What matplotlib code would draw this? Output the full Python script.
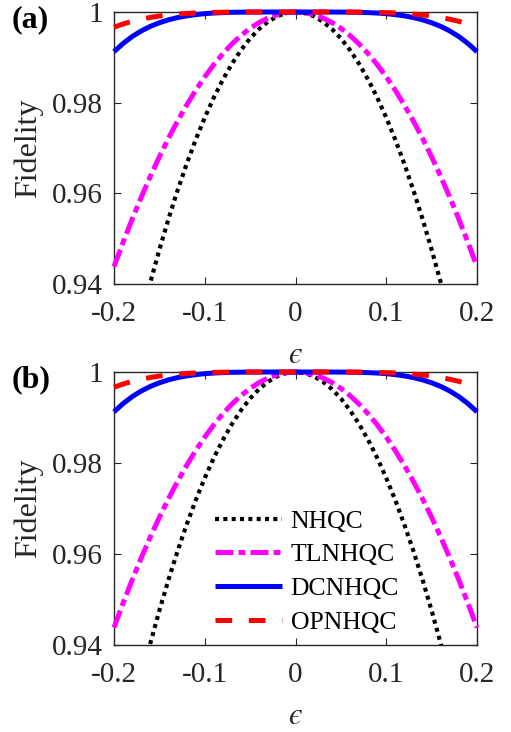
import matplotlib
matplotlib.use("Agg")
import matplotlib.pyplot as plt

plt.rcParams['font.family'] = ['Liberation Serif', 'DejaVu Serif']
plt.rcParams['mathtext.fontset'] = 'stix'
plt.rcParams['lines.scale_dashes'] = False

eps = [-0.20, -0.19, -0.18, -0.17, -0.16, -0.15, -0.14, -0.13, -0.12, -0.11,
       -0.10, -0.09, -0.08, -0.07, -0.06, -0.05, -0.04, -0.03, -0.02, -0.01,
       0.00,
       0.01, 0.02, 0.03, 0.04, 0.05, 0.06, 0.07, 0.08, 0.09, 0.10,
       0.11, 0.12, 0.13, 0.14, 0.15, 0.16, 0.17, 0.18, 0.19, 0.20]

nhqc = [0.90680, 0.91589, 0.92451, 0.93266, 0.94035, 0.94758, 0.95433, 0.96062, 0.96645, 0.97181,
        0.97670, 0.98113, 0.98509, 0.98858, 0.99161, 0.99418, 0.99627, 0.99790, 0.99907, 0.99977,
        1.00000,
        0.99977, 0.99907, 0.99790, 0.99627, 0.99418, 0.99161, 0.98858, 0.98509, 0.98113, 0.97670,
        0.97181, 0.96645, 0.96062, 0.95433, 0.94758, 0.94035, 0.93266, 0.92451, 0.91589, 0.90680]

tlnhqc = [0.94384, 0.94919, 0.95429, 0.95914, 0.96373, 0.96806, 0.97212, 0.97592, 0.97945, 0.98271,
          0.98569, 0.98840, 0.99082, 0.99297, 0.99483, 0.99640, 0.99770, 0.99870, 0.99942, 0.99986,
          1.00000,
          0.99986, 0.99942, 0.99870, 0.99770, 0.99640, 0.99483, 0.99297, 0.99082, 0.98840, 0.98569,
          0.98271, 0.97945, 0.97592, 0.97212, 0.96806, 0.96373, 0.95914, 0.95429, 0.94919, 0.94384]

dcnhqc = [0.99124, 0.99306, 0.99458, 0.99582, 0.99683, 0.99763, 0.99827, 0.99877, 0.99914, 0.99942,
          0.99963, 0.99977, 0.99986, 0.99993, 0.99996, 0.99998, 0.99999, 1.00000, 1.00000, 1.00000,
          1.00000,
          1.00000, 1.00000, 1.00000, 0.99999, 0.99998, 0.99996, 0.99993, 0.99986, 0.99977, 0.99963,
          0.99942, 0.99914, 0.99877, 0.99827, 0.99763, 0.99683, 0.99582, 0.99458, 0.99306, 0.99124]

opnhqc = [0.99665, 0.99735, 0.99794, 0.99841, 0.99880, 0.99911, 0.99935, 0.99954, 0.99968, 0.99979,
          0.99986, 0.99991, 0.99995, 0.99997, 0.99999, 0.99999, 1.00000, 1.00000, 1.00000, 1.00000,
          1.00000,
          1.00000, 1.00000, 1.00000, 1.00000, 0.99999, 0.99999, 0.99997, 0.99995, 0.99991, 0.99986,
          0.99979, 0.99968, 0.99954, 0.99935, 0.99911, 0.99880, 0.99841, 0.99794, 0.99735, 0.99665]

series_labels = ['NHQC', 'TLNHQC', 'DCNHQC', 'OPNHQC']
xtick_vals = [-0.2, -0.1, 0, 0.1, 0.2]
xtick_labels = ['-0.2', '-0.1', '0', '0.1', '0.2']
ytick_vals = [0.94, 0.96, 0.98, 1.0]
ytick_labels = ['0.94', '0.96', '0.98', '1']
panel_labels = ['(a)', '(b)']

W, H = 511, 732
fig = plt.figure(figsize=(W / 100, H / 100), dpi=100)

axc = '#262626'
panels = [(12, 284), (372, 645)]
for i, (top, bot) in enumerate(panels):
    ax = fig.add_axes([114 / W, 1 - bot / H, 363 / W, (bot - top) / H])
    ax.plot(eps, nhqc, color='black', lw=3.0, linestyle=(0, (2.9, 3.1)),
            dash_capstyle='butt', label=series_labels[0], zorder=3)
    ax.plot(eps, tlnhqc, color='#ff00ff', lw=3.6,
            linestyle=(0, (13, 3.6, 5, 3.6)), dash_capstyle='butt',
            label=series_labels[1], clip_on=False, zorder=4)
    ax.plot(eps, dcnhqc, color='#0000ff', lw=3.6, linestyle='-', solid_capstyle='butt',
            label=series_labels[2], clip_on=False, zorder=5)
    ax.plot(eps, opnhqc, color='#ff0000', lw=3.6, linestyle=(0, (12, 12)),
            dash_capstyle='butt', label=series_labels[3], clip_on=False, zorder=6)
    ax.set_xlim(-0.2, 0.2)
    ax.set_ylim(0.94, 1.0)
    ax.set_xticks(xtick_vals)
    ax.set_xticklabels(xtick_labels)
    ax.set_yticks(ytick_vals)
    ax.set_yticklabels(ytick_labels)
    ax.tick_params(direction='in', length=5, width=0.8, colors=axc, labelsize=21,
                   top=True, right=True, labelcolor=axc)
    ax.tick_params(axis='y', pad=8)
    ax.tick_params(axis='x', pad=12)
    for s in ax.spines.values():
        s.set_color(axc)
        s.set_linewidth(1.0)
    ax.set_ylabel('Fidelity', fontsize=23, color=axc, va='center')
    ax.yaxis.set_label_coords(-0.237, 0.5)
    ax.set_xlabel('$\u03f5$', fontsize=22, color=axc, va='center')
    ax.xaxis.set_label_coords(0.5, -0.262)
    fig.text(12 / W, 1 - (top + 8) / H, panel_labels[i], fontsize=23, fontweight='bold',
             ha='left', va='center', color='black')

    if i == 1:
        leg = ax.legend(loc='center left', bbox_to_anchor=(0.278, 0.268), frameon=False,
                        fontsize=18.5, handlelength=2.6, handletextpad=0.35,
                        labelspacing=0.42, borderpad=0, borderaxespad=0)
        for t in leg.get_texts():
            t.set_color('black')

fig.savefig('out.png', dpi=100)
